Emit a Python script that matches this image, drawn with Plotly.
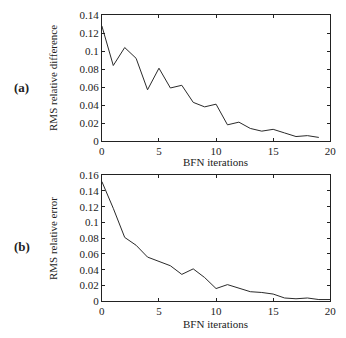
import plotly.graph_objects as go

iters_a = list(range(20))
rms_diff = [0.128, 0.084, 0.104, 0.092, 0.057, 0.081, 0.059, 0.062, 0.043, 0.038,
            0.041, 0.018, 0.021, 0.014, 0.011, 0.013, 0.009, 0.005, 0.006, 0.004]
iters_b = list(range(21))
rms_err = [0.152, 0.118, 0.081, 0.071, 0.056, 0.051, 0.045, 0.034, 0.041, 0.030,
           0.016, 0.021, 0.016, 0.012, 0.011, 0.009, 0.004, 0.003, 0.004, 0.002, 0.002]

x_ticks = [0, 5, 10, 15, 20]
y_ticks_a = [0, 0.02, 0.04, 0.06, 0.08, 0.1, 0.12, 0.14]
y_ticks_b = [0, 0.02, 0.04, 0.06, 0.08, 0.1, 0.12, 0.14, 0.16]

W, H = 346, 338
FONT = "Liberation Serif, Times New Roman, serif"
LINE = "#2a2a2a"

fig = go.Figure()
fig.add_trace(go.Scatter(x=iters_a, y=rms_diff, mode="lines",
                         line=dict(color=LINE, width=1), xaxis="x", yaxis="y"))
fig.add_trace(go.Scatter(x=iters_b, y=rms_err, mode="lines",
                         line=dict(color=LINE, width=1), xaxis="x2", yaxis="y2"))

def xd(px):
    return px / W

def yd(py):
    return 1 - py / H

xdom = [xd(101.5), xd(336)]
axis_common = dict(showgrid=False, zeroline=False, showline=True, linecolor="#222",
                   linewidth=1, mirror="ticks", ticks="inside", ticklen=3,
                   tickcolor="#222", tickfont=dict(family=FONT, size=11, color="#222"))

fig.update_layout(
    width=W, height=H, margin=dict(l=0, r=0, t=0, b=0),
    paper_bgcolor="white", plot_bgcolor="white", showlegend=False,
    xaxis=dict(domain=xdom, range=[0, 20], tickvals=x_ticks,
               ticktext=[str(v) for v in x_ticks], anchor="y", **axis_common),
    yaxis=dict(domain=[yd(140), yd(9.5)], range=[0, 0.14], tickvals=y_ticks_a,
               ticktext=[f"{v:g}" for v in y_ticks_a], anchor="x", **axis_common),
    xaxis2=dict(domain=xdom, range=[0, 20], tickvals=x_ticks,
                ticktext=[str(v) for v in x_ticks], anchor="y2", **axis_common),
    yaxis2=dict(domain=[yd(306), yd(175.5)], range=[0, 0.16], tickvals=y_ticks_b,
                ticktext=[f"{v:g}" for v in y_ticks_b], anchor="x2", **axis_common),
)

ann_font = dict(family=FONT, size=11, color="#222")

def label(px, py, text, font, angle=0):
    fig.add_annotation(x=xd(px), y=yd(py), xref="paper", yref="paper",
                       xanchor="center", yanchor="middle", text=text,
                       showarrow=False, textangle=angle, font=font)

label(218.5, 162, "BFN iterations", ann_font)
label(218.5, 330, "BFN iterations", ann_font)
label(52, 75, "RMS relative difference", ann_font, -90)
label(52, 241, "RMS relative error", ann_font, -90)
bold = dict(family=FONT, size=13, color="#222")
label(19, 85, "<b>(a)</b>", bold)
label(19, 249, "<b>(b)</b>", bold)

fig.write_html("out.html")
